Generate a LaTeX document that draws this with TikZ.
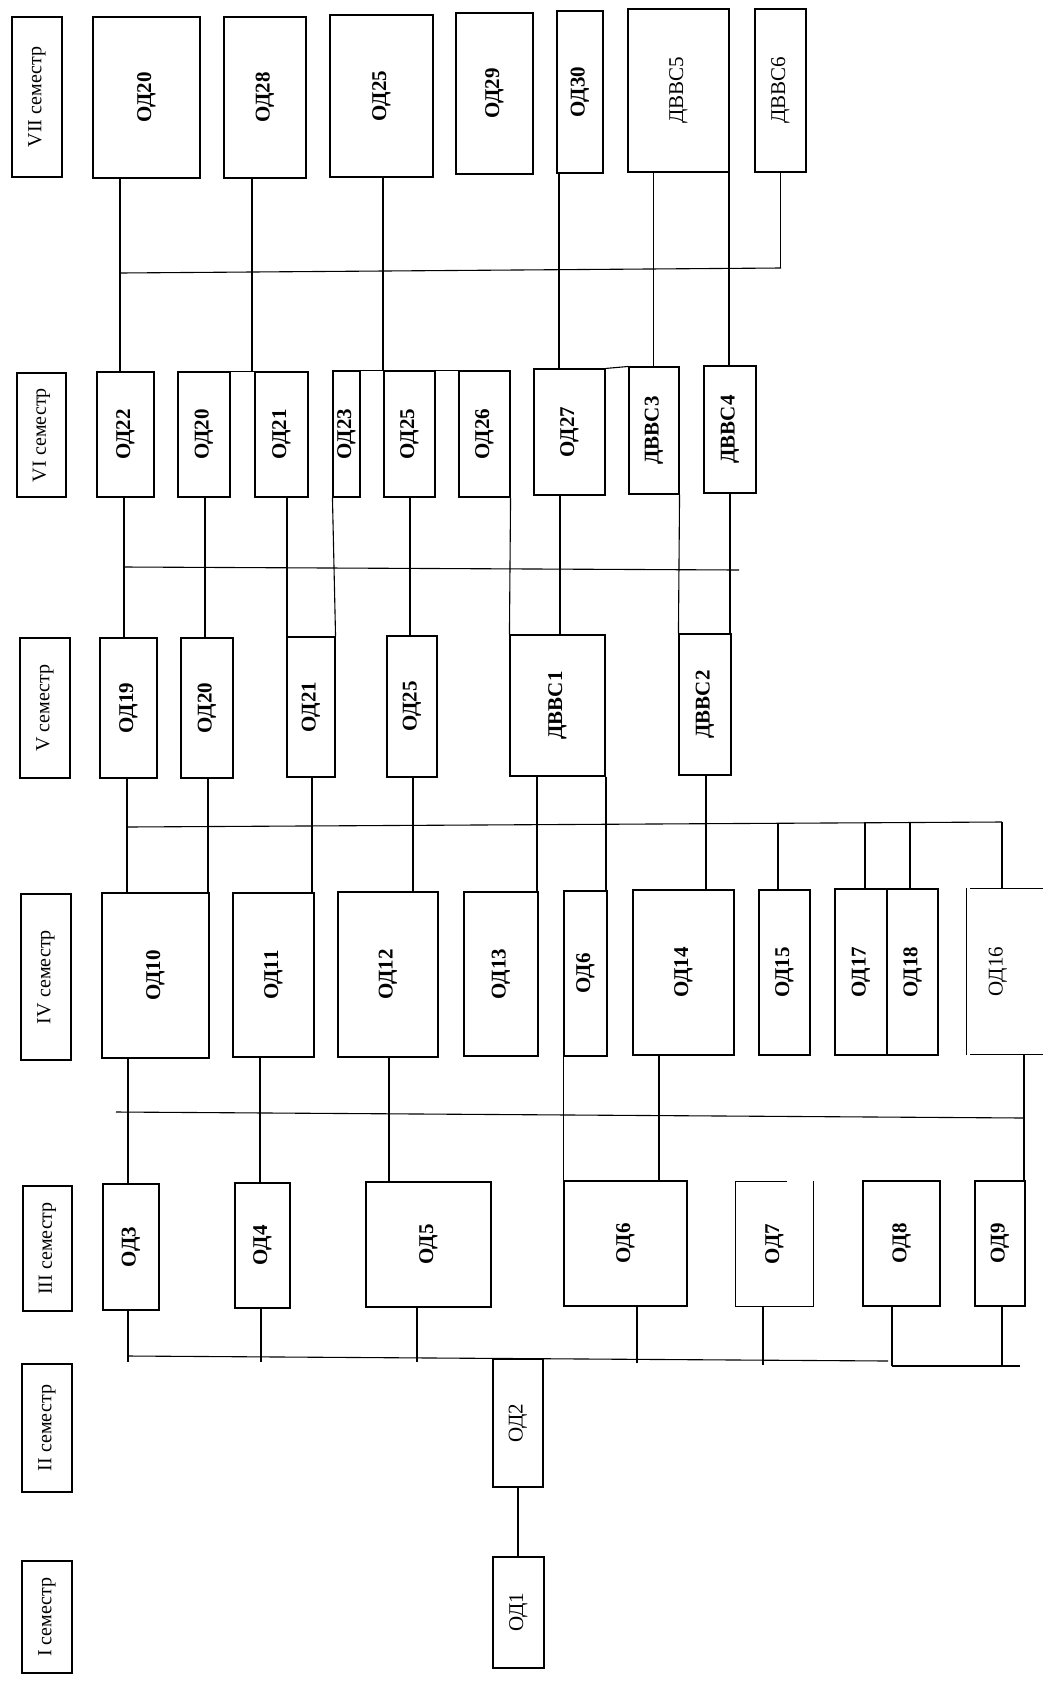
\documentclass[tikz,border=0pt]{standalone}
\usepackage{fontspec}
\setmainfont{Liberation Serif}
\usepackage{graphicx}
\usetikzlibrary{positioning}
\newcommand{\vtext}[1]{\rotatebox{90}{#1}}

\begin{document}
\begin{tikzpicture}[x=1pt, y=-1pt, line width=1.1pt, every node/.style={line width=1.1pt},
 sz/.style 2 args={minimum width=#1pt, minimum height=#2pt},
 disc/.style={draw, inner sep=0pt, font=\fontsize{21}{24}\selectfont\bfseries},
 lite/.style={draw, inner sep=0pt, font=\fontsize{21}{24}\selectfont},
 sem/.style={draw, inner sep=0pt, font=\fontsize{20}{24}\selectfont}]

\useasboundingbox (0,0) rectangle (1042,1687);

\node[sem, sz={50}{160}] (s7) at (37,97) {\vtext{VII семестр}};
\node[sem, sz={49}{124}] (s6) at (41.5,435) {\vtext{VI семестр}};
\node[sem, sz={50}{140}] (s5) at (45,708) {\vtext{V семестр}};
\node[sem, sz={50}{166}] (s4) at (46,977) {\vtext{IV семестр}};
\node[sem, sz={49}{125}] (s3) at (47.5,1248.5) {\vtext{III семестр}};
\node[sem, sz={50}{128}] (s2) at (47,1428) {\vtext{II семестр}};
\node[sem, sz={50}{112}] (s1) at (47,1617) {\vtext{I семестр}};

\node[disc, sz={107}{161}] (od20g) at (146.5,97.5) {\vtext{ОД20}};
\node[disc, sz={82}{161}] (od28) at (265,97.5) {\vtext{ОД28}};
\node[disc, sz={103}{162}] (od25g) at (381.5,96) {\vtext{ОД25}};
\node[disc, sz={77}{161}] (od29) at (494.5,93.5) {\vtext{ОД29}};
\node[disc, sz={46}{162}] (od30) at (580,92) {\vtext{ОД30}};
\node[lite, sz={101}{163}] (dvvs5) at (678.5,90.5) {\vtext{ДВВС5}};
\node[lite, sz={51}{163}] (dvvs6) at (780.5,90.5) {\vtext{ДВВС6}};

\node[disc, sz={57}{125}] (od22) at (125.5,434.5) {\vtext{ОД22}};
\node[disc, sz={52}{125}] (od20f) at (204,434.5) {\vtext{ОД20}};
\node[disc, sz={53}{125}] (od21f) at (281.5,434.5) {\vtext{ОД21}};
\node[disc, sz={27}{126}] (od23) at (346.5,434) {\vtext{ОД23}};
\node[disc, sz={51}{126}] (od25f) at (409.5,434) {\vtext{ОД25}};
\node[disc, sz={51}{126}] (od26) at (484.5,434) {\vtext{ОД26}};
\node[disc, sz={71}{126}] (od27) at (569.5,432) {\vtext{ОД27}};
\node[disc, sz={50}{127}] (dvvs3) at (654,430.5) {\vtext{ДВВС3}};
\node[disc, sz={52}{127}] (dvvs4) at (730,429.5) {\vtext{ДВВС4}};

\node[disc, sz={57}{140}] (od19) at (128.5,708) {\vtext{ОД19}};
\node[disc, sz={52}{140}] (od20e) at (207,708) {\vtext{ОД20}};
\node[disc, sz={48}{140}] (od21e) at (311,707) {\vtext{ОД21}};
\node[disc, sz={50}{141}] (od25e) at (412,706.5) {\vtext{ОД25}};
\node[disc, sz={95}{141}] (dvvs1) at (557.5,705.5) {\vtext{ДВВС1}};
\node[disc, sz={52}{141}] (dvvs2) at (705,704.5) {\vtext{ДВВС2}};

\node[disc, sz={107}{165}] (od10) at (155.5,975.5) {\vtext{ОД10}};
\node[disc, sz={81}{164}] (od11) at (273.5,975) {\vtext{ОД11}};
\node[disc, sz={100}{165}] (od12) at (388,974.5) {\vtext{ОД12}};
\node[disc, sz={74}{164}] (od13) at (501,974) {\vtext{ОД13}};
\node[disc, sz={43}{165}] (od6d) at (585.5,973.5) {\vtext{ОД6}};
\node[disc, sz={101}{165}] (od14) at (683.5,972.5) {\vtext{ОД14}};
\node[disc, sz={51}{165}] (od15) at (784.5,972.5) {\vtext{ОД15}};
\node[disc, sz={52}{166}] (od17) at (861,972) {\vtext{ОД17}};
\node[disc, sz={51}{166}] (od18) at (912.5,972) {\vtext{ОД18}};
\node[sz={75}{165}, inner sep=0pt] (od16) at (1008.5,971.5) {};
\node[font=\fontsize{21}{24}\selectfont, inner sep=0pt] (od16t) at (998,971.5) {\vtext{ОД16}};
\draw (od16.north west) -- (od16.north east);
\draw (od16.south west) -- (od16.south east);
\draw ([xshift=-4pt]od16.north west) -- ([xshift=-4pt]od16.south west);

\node[disc, sz={56}{126}] (od3) at (131,1247) {\vtext{ОД3}};
\node[disc, sz={55}{125}] (od4) at (262.5,1245.5) {\vtext{ОД4}};
\node[disc, sz={125}{125}] (od5) at (428.5,1244.5) {\vtext{ОД5}};
\node[disc, sz={123}{125}] (od6c) at (625.5,1243.5) {\vtext{ОД6}};
\node[disc, draw=none, sz={77}{124}] (od7) at (774.5,1244) {\vtext{ОД7}};
\draw ([xshift=-27pt]od7.north east) -- (od7.north west) -- (od7.south west) -- (od7.south east) -- (od7.north east);
\node[disc, sz={77}{125}] (od8) at (901.5,1243.5) {\vtext{ОД8}};
\node[disc, sz={50}{125}] (od9) at (1000,1243.5) {\vtext{ОД9}};

\node[lite, sz={50}{128}] (od2) at (518,1423) {\vtext{ОД2}};
\node[lite, sz={51}{111}] (od1) at (518.5,1612.5) {\vtext{ОД1}};

\coordinate (b7w) at (120,273);
\coordinate (b7e) at (781,268);
\coordinate (b6w) at (124,567);
\coordinate (b6e) at (739,570);
\coordinate (b5w) at (127,827);
\coordinate (b5e) at (1002,822);
\coordinate (b4w) at (116,1112);
\coordinate (b4e) at (1024,1118);
\coordinate (b3w) at (128,1356);
\coordinate (b3e) at (888,1361);
\coordinate (b3bw) at (892,1366);
\coordinate (b3be) at (1020,1366);

\draw (b7w) -- (b7e);
\draw (b6w) -- (b6e);
\draw (b5w) -- (b5e);
\draw (b4w) -- (b4e);
\draw (b3w) -- (b3e);
\draw (b3bw) -- (b3be);

\draw (od20g.south -| 120,0) -- (od22.north -| 120,0);
\draw (od28.south -| 252,0) -- (od21f.north -| 252,0);
\draw (od25g.south -| 383,0) -- (od25f.north -| 383,0);
\draw (od30.south -| 559,0) -- (od27.north -| 559,0);
\draw (dvvs5.south -| 653.5,0) -- (dvvs3.north -| 653.5,0);
\draw (dvvs5.south -| 729,0) -- (dvvs4.north -| 729,0);
\draw (dvvs6.south) -- (dvvs6.south |- b7e);

\draw (od20f.north east) -- (od21f.north west);
\draw (od23.north east) -- (od25f.north west);
\draw (od25f.north east) -- (od26.north west);
\draw (od27.north east) -- (dvvs3.north west);

\draw (od22.south -| 124,0) -- (od19.north -| 124,0);
\draw (od20f.south -| 205,0) -- (od20e.north -| 205,0);
\draw (od21f.south -| 287,0) -- (od21e.north -| 287,0);
\draw (od23.south west) -- (od21e.north east);
\draw (od25f.south -| 410,0) -- (od25e.north -| 410,0);
\draw (od26.south east) -- (dvvs1.north west);
\draw (od27.south -| 560,0) -- (dvvs1.north -| 560,0);
\draw (dvvs3.south east) -- (dvvs2.north west);
\draw (dvvs4.south -| 730,0) -- (dvvs2.north -| 730,0);

\draw (od19.south -| 127,0) -- (od10.north -| 127,0);
\draw (od20e.south -| 208,0) -- (od10.north -| 208,0);
\draw (od21e.south -| 312,0) -- (od11.north -| 312,0);
\draw (od25e.south -| 413,0) -- (od12.north -| 413,0);
\draw (dvvs1.south -| 537,0) -- (od13.north -| 537,0);
\draw (dvvs1.south -| 606,0) -- (od6d.north -| 606,0);
\draw (dvvs2.south -| 706,0) -- (od14.north -| 706,0);
\draw (od15.north -| 778,0) -- (778,823.3);
\draw (od17.north -| 865,0) -- (865,822.8);
\draw (od18.north -| 910,0) -- (910,822.5);
\draw (od16.north -| b5e) -- (b5e);

\draw (od10.south -| 128,0) -- (od3.north -| 128,0);
\draw (od11.south -| 260,0) -- (od4.north -| 260,0);
\draw (od12.south -| 389,0) -- (od5.north -| 389,0);
\draw (od6d.south west) -- (od6c.north west);
\draw (od14.south -| 659,0) -- (od6c.north -| 659,0);
\draw (od16.south -| 1024,0) -- (od9.north -| 1024,0);

\draw (od3.south -| 128,0) -- (128,1362);
\draw (od4.south -| 261,0) -- (261,1362);
\draw (od5.south -| 417,0) -- (417,1362);
\draw (od6c.south -| 637,0) -- (637,1363);
\draw (od7.south -| 763,0) -- (763,1365);
\draw (od8.south -| 892,0) -- (b3bw);
\draw (od9.south -| 1002,0) -- (1002,1367);

\draw (od2.south -| 518,0) -- (od1.north -| 518,0);
\end{tikzpicture}
\end{document}
